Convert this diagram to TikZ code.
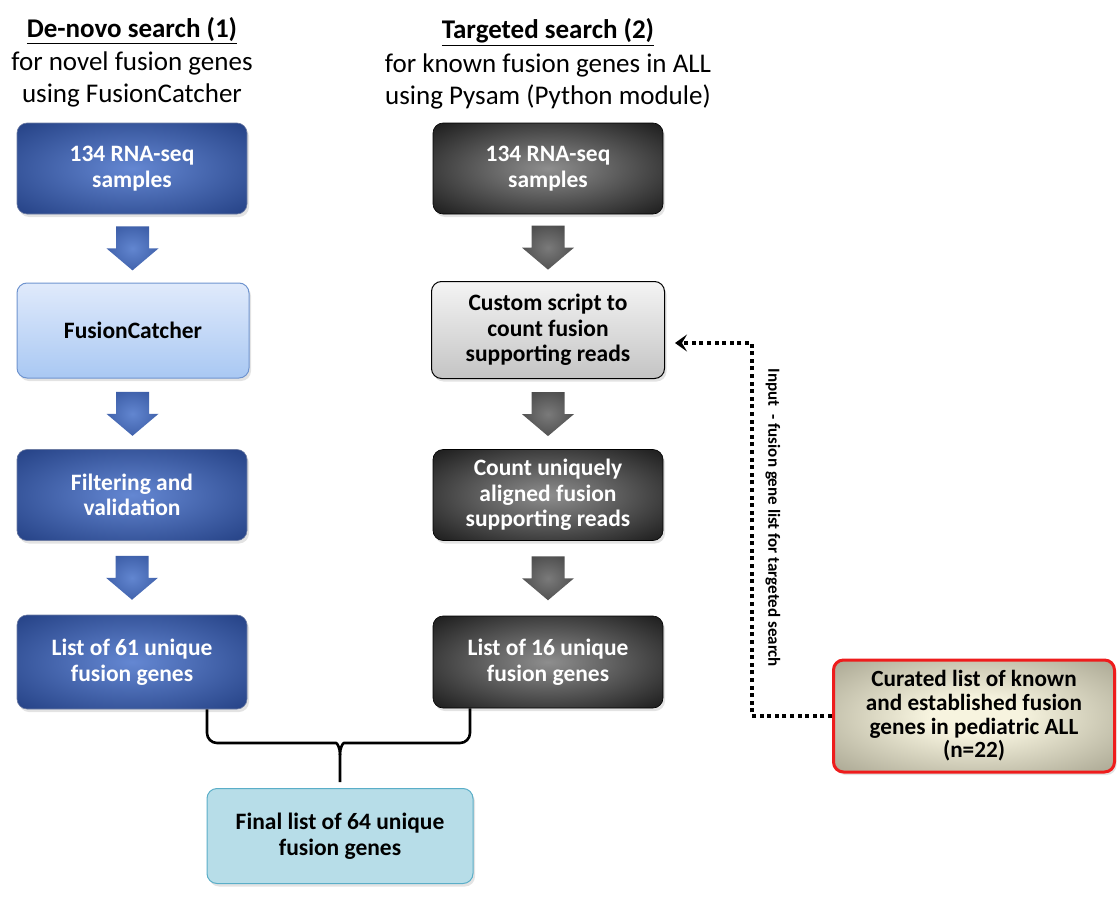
\documentclass[tikz,border=0pt]{standalone}
\usepackage{fontspec}
\setmainfont{Carlito}
\usetikzlibrary{calc,shadows,arrows.meta}
\definecolor{blueIn}{HTML}{6487D2}
\definecolor{blueOut}{HTML}{0B2566}
\definecolor{blkIn}{HTML}{8E8E8E}
\definecolor{blkOut}{HTML}{000000}
\definecolor{curIn}{HTML}{F7F4DF}
\definecolor{curOut}{HTML}{7C7965}
\definecolor{arrBIn}{HTML}{6286D0}
\definecolor{arrBOut}{HTML}{203F88}
\definecolor{arrGIn}{HTML}{7A7A7A}
\definecolor{arrGOut}{HTML}{2A2A2A}
\definecolor{lbTop}{HTML}{E0EAFB}
\definecolor{lbBot}{HTML}{A9C8F3}
\definecolor{lbDraw}{HTML}{6F94CF}
\definecolor{grTop}{HTML}{F4F4F4}
\definecolor{grBot}{HTML}{C4C4C4}
\definecolor{finFill}{HTML}{B7DDE8}
\definecolor{finDraw}{HTML}{5AAEC8}
\definecolor{curRed}{HTML}{EE1C1C}
\pgfdeclareradialshading{bluerad}{\pgfpoint{0bp}{0bp}}{color(0bp)=(blueIn); color(50bp)=(blueOut); color(75bp)=(blueOut)}
\pgfdeclareradialshading{blkrad}{\pgfpoint{0bp}{0bp}}{color(0bp)=(blkIn); color(44bp)=(blkOut); color(75bp)=(blkOut)}
\pgfdeclareradialshading{currad}{\pgfpoint{0bp}{0bp}}{color(0bp)=(curIn); color(8bp)=(curIn); color(52bp)=(curOut); color(75bp)=(curOut)}
\pgfdeclareradialshading{arrbrad}{\pgfpoint{0bp}{0bp}}{color(0bp)=(arrBIn); color(50bp)=(arrBOut); color(75bp)=(arrBOut)}
\pgfdeclareradialshading{arrgrad}{\pgfpoint{0bp}{0bp}}{color(0bp)=(arrGIn); color(50bp)=(arrGOut); color(75bp)=(arrGOut)}
\newcommand\blockarr[3]{%
  \coordinate (bam) at ($(#1.south)!0.5!(#2.north)$);
  \path[#3] ($(bam)+(-16.5,-22)$) -- ($(bam)+(16.5,-22)$) -- ($(bam)+(16.5,0)$)
    -- ($(bam)+(26,0)$) -- ($(bam)+(0,22)$) -- ($(bam)+(-26,0)$)
    -- ($(bam)+(-16.5,0)$) -- cycle;}
\begin{document}
\begin{tikzpicture}[x=1pt,y=-1pt,
  box/.style={rounded corners=10pt, minimum width=230pt, minimum height=91pt,
    align=center, inner sep=0pt,
    font=\fontsize{23.5}{25.5}\selectfont\bfseries,
    drop shadow={opacity=0.22, shadow xshift=2pt, shadow yshift=-3pt}},
  bluebox/.style={box, shade, shading=bluerad, text=white, draw=blueOut!60!white, line width=0.6pt},
  blackbox/.style={box, shade, shading=blkrad, text=white, draw=black, line width=0.6pt},
  lightbox/.style={box, top color=lbTop, bottom color=lbBot, text=black, draw=lbDraw, line width=1pt},
  greybox/.style={box, top color=grTop, bottom color=grBot, text=black, draw=black, line width=1pt},
  finalbox/.style={box, fill=finFill, draw=finDraw, line width=1pt, text=black},
  curbox/.style={box, shade, shading=currad, draw=curRed, line width=3pt, text=black,
    font=\fontsize{23.2}{23.6}\selectfont\bfseries},
  title/.style={font=\fontsize{27}{32}\selectfont, inner sep=0pt},
  barrB/.style={shade, shading=arrbrad},
  barrG/.style={shade, shading=arrgrad},
  brace/.style={draw=black, line width=2.6pt},
  dotline/.style={draw=black, line width=4pt, dash pattern=on 4pt off 3.6pt},
  sidelabel/.style={font=\fontsize{17}{20}\selectfont\bfseries, rotate=-90, inner sep=0pt}
]
\useasboundingbox (0,0) rectangle (1120,899);

% titles
\node[title] (t1) at (132,31) {\textbf{\underline{De-novo search (1)}}};
\node[title] (t1a) at (132,63) {for novel fusion genes};
\node[title] (t1b) at (132,95) {using FusionCatcher};
\node[title] (t2) at (548,32) {\textbf{\underline{Targeted search (2)}}};
\node[title] (t2a) at (548,65) {for known fusion genes in ALL};
\node[title] (t2b) at (548,97) {using Pysam (Python module)};

% left column
\node[bluebox] (l1) at (132,168.5) {134 RNA-seq\\samples};
\node[lightbox, minimum width=232pt, minimum height=95pt] (l2) at (133,330.5) {FusionCatcher};
\node[bluebox] (l3) at (132,495) {Filtering and\\validation};
\node[bluebox, minimum height=94pt] (l4) at (132,662) {List of 61 unique\\fusion genes};

% right column
\node[blackbox] (r1) at (548,168.5) {134 RNA-seq\\samples};
\node[greybox, minimum width=233pt, minimum height=97pt] (r2) at (548,330) {Custom script to\\count fusion\\supporting reads};
\node[blackbox] (r3) at (548,495) {Count uniquely\\aligned fusion\\supporting reads};
\node[blackbox, minimum height=92pt] (r4) at (548,662) {List of 16 unique\\fusion genes};

% final and curated
\node[finalbox, minimum width=266pt, minimum height=95pt] (fin) at (340,836) {Final list of 64 unique\\fusion genes};
\node[curbox, minimum width=281pt, minimum height=112pt] (cur) at (974,716) {Curated list of known\\and established fusion\\genes in pediatric ALL\\(n=22)};

% block arrows
\blockarr{l1}{l2}{barrB}
\blockarr{l2}{l3}{barrB}
\blockarr{l3}{l4}{barrB}
\blockarr{r1}{r2}{barrG}
\blockarr{r2}{r3}{barrG}
\blockarr{r3}{r4}{barrG}

% brace
\coordinate (bl) at ($(l4.south)+(75,0)$);
\coordinate (br) at ($(r4.south)+(-78,0)$);
\coordinate (bt) at ($(fin.north)+(0,-6)$);
\draw[brace] (bl) [rounded corners=10pt] |- ($(bt)+(-14,-39)$) [sharp corners]
  .. controls ($(bt)+(-3,-39)$) and ($(bt)+(0,-35)$) .. ($(bt)+(0,-27)$) -- (bt);
\draw[brace] (br) [rounded corners=10pt] |- ($(bt)+(14,-39)$) [sharp corners]
  .. controls ($(bt)+(3,-39)$) and ($(bt)+(0,-35)$) .. ($(bt)+(0,-27)$);

% dotted input connector
\coordinate (cin) at ($(r2.east)+(10,13)$);
\draw[dotline, -{Stealth[length=12pt, width=17pt, inset=5pt]}] (cur.west) -- ($(cur.west)+(-80,0)$) |- (cin);
\node[sidelabel] (lbl) at (773,518) {Input\ \ - fusion gene list for targeted search};
\end{tikzpicture}
\end{document}
